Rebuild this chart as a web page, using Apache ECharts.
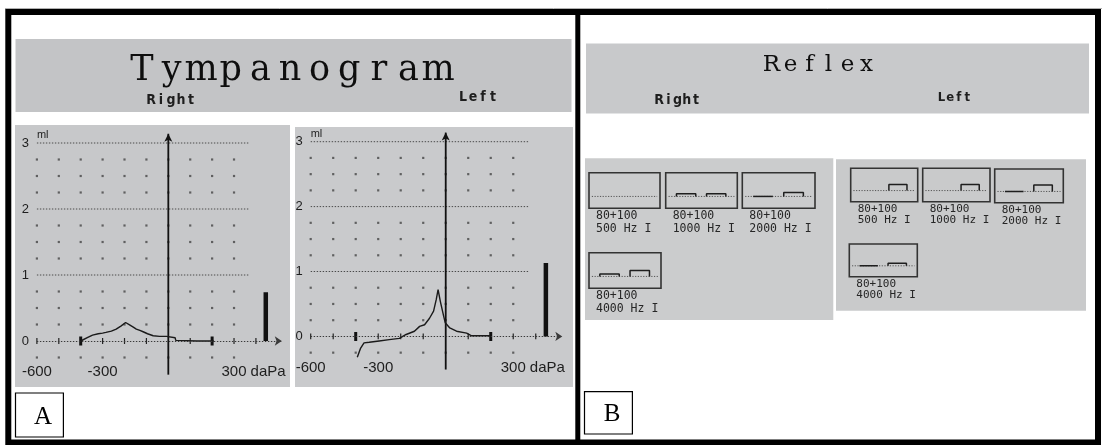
<!DOCTYPE html>
<html><head><meta charset="utf-8">
<script src="https://cdn.jsdelivr.net/npm/echarts@6/dist/echarts.min.js"></script>
<style>html,body{margin:0;padding:0;background:#fff}#c{width:1104px;height:445px}</style>
</head><body><div id="c"></div>
<script>
// ---------------- data ----------------
const tympTitle = 'Tympanogram';
const reflexTitle = 'Reflex';
const earLabels = ['Right', 'Left'];
const panelLetters = ['A', 'B'];
const yTickLabels = [0, 1, 2, 3];
const xTickLabels = [-600, -300, 300];
const pressureUnit = 'daPa';
const complianceUnit = 'ml';
const gridLineLevels = [1, 2, 3];
const dotColumns = [-600, -500, -400, -300, -200, -100, 0, 100, 200, 300];
const dotRows = [-0.25, 0.25, 0.5, 0.75, 1.25, 1.5, 1.75, 2.25, 2.5, 2.75];
const pressureLimits = [-400, 200];
const minorTicks = [-600, -500, -300, -200, -100, 100, 300, 400];
const axisExtent = [-0.51, 3.14];

// right ear tympanogram (pressure daPa, compliance ml)
const rightPressure = [-400, -392, -370, -346, -320, -300, -285, -260, -238, -215, -195, -175, -160, -146, -130, -115, -95, -69, -40, -8, 31, 34, 131, 208];
const rightCompliance = [0, 0.01, 0.05, 0.09, 0.11, 0.12, 0.13, 0.15, 0.18, 0.23, 0.28, 0.24, 0.21, 0.18, 0.16, 0.14, 0.11, 0.08, 0.07, 0.07, 0.05, 0.01, 0, 0];
// left ear tympanogram
const leftPressure = [-393, -378, -363, -340, -296, -251, -206, -176, -139, -116, -94, -72, -54, -42, -34, -24, -9, -2, 18, 48, 93, 115, 197];
const leftCompliance = [-0.32, -0.18, -0.10, -0.09, -0.07, -0.05, -0.03, 0.03, 0.08, 0.155, 0.18, 0.28, 0.39, 0.57, 0.72, 0.54, 0.31, 0.21, 0.13, 0.08, 0.05, 0.01, 0.01];
// ear canal volume bars
const ecvPressure = 445;
const rightECV = 0.74;
const leftECV = 1.13;

// acoustic reflex
const reflexFreqs = ['500', '1000', '2000', '4000'];
const reflexStim = '80+100';
const reflexMode = 'I';
const stimWindows = [[15, 42], [57, 84]];
const rightReflex = [[null, null], [0.23, 0.23], [0, 0.34], [0.2, 0.49]];
const leftReflex = [[null, 0.54], [null, 0.54], [0, 0.58], [0, 0.24]];

// ---------------- layout ----------------
const tympLayouts = [
  { left: 36.9, top: 136.4, width: 247.5, height: 224.4 },
  { left: 310.7, top: 135.2, width: 254.3, height: 220.7 }
];
const reflexLayouts = [
  [[589, 172.7, 71, 35.6], [665.7, 172.7, 71.6, 35.6], [742.3, 172.7, 72.7, 35.6], [589, 252.7, 72, 35.6]],
  [[850.7, 168.3, 67, 33.4], [922.7, 168.3, 67.3, 33.4], [994.7, 169, 68.6, 33.7], [849.3, 244, 68, 32.7]]
];

const INK = '#1e1e1e';
const grids = [], xAxes = [], yAxes = [], series = [], graphics = [];

function spaced(txt) {
  return txt.split('').map(ch => '{c|' + ch + '}').join('');
}
function headerText(txt, x, y, cell, size, family, weight, color) {
  const tok = { width: cell, align: 'center', fontSize: size, fontFamily: family, fontWeight: weight, fill: color || INK };
  return {
    type: 'text', z: 5, x: x, y: y,
    style: { text: spaced(txt), align: 'center', verticalAlign: 'middle', rich: { c: tok } }
  };
}

// background / frames
graphics.push({ type: 'line', z: -5, shape: { x1: 5, y1: 8.5, x2: 1102, y2: 8.5 }, style: { stroke: '#b0b0b0', lineWidth: 1 } });
graphics.push({ type: 'rect', z: -4, shape: { x: 15.5, y: 39, width: 556, height: 73 }, style: { fill: '#c3c4c6' } });
graphics.push({ type: 'rect', z: -4, shape: { x: 586, y: 43.5, width: 503, height: 70 }, style: { fill: '#c8c9cb' } });
graphics.push({ type: 'rect', z: -4, shape: { x: 15, y: 125, width: 275, height: 262 }, style: { fill: '#c7c8ca' } });
graphics.push({ type: 'rect', z: -4, shape: { x: 295, y: 127, width: 278, height: 260 }, style: { fill: '#c9cacc' } });
graphics.push({ type: 'rect', z: -4, shape: { x: 585, y: 158.3, width: 248.3, height: 161.7 }, style: { fill: '#cbcccd' } });
graphics.push({ type: 'rect', z: -4, shape: { x: 836, y: 159.3, width: 250, height: 151.4 }, style: { fill: '#c9cacb' } });
graphics.push({ type: 'rect', z: 10, shape: { x: 8.3, y: 12, width: 1089.7, height: 430.5 }, style: { fill: 'none', stroke: '#000', lineWidth: 6 } });
graphics.push({ type: 'line', z: 10, shape: { x1: 577.8, y1: 12, x2: 577.8, y2: 442 }, style: { stroke: '#000', lineWidth: 5 } });
// panel letters
graphics.push({ type: 'rect', z: 6, shape: { x: 15.5, y: 393, width: 47.9, height: 44 }, style: { fill: '#fff', stroke: '#000', lineWidth: 1.2 } });
graphics.push({ type: 'rect', z: 6, shape: { x: 584.5, y: 391.7, width: 47.9, height: 42.3 }, style: { fill: '#fff', stroke: '#000', lineWidth: 1.2 } });
graphics.push({ type: 'text', z: 7, x: 43, y: 417.5, style: { text: panelLetters[0], align: 'center', verticalAlign: 'middle', fontSize: 25, fontFamily: 'Liberation Serif', fill: '#000' } });
graphics.push({ type: 'text', z: 7, x: 612, y: 414, style: { text: panelLetters[1], align: 'center', verticalAlign: 'middle', fontSize: 25, fontFamily: 'Liberation Serif', fill: '#000' } });
// headers
graphics.push(headerText(tympTitle, 290, 71, 29.6, 35, 'DejaVu Serif', 'normal', '#0e0e0e'));
graphics.push(headerText(reflexTitle, 819, 65, 19, 23, 'DejaVu Serif', 'normal', '#0e0e0e'));
graphics.push(headerText(earLabels[0], 171, 100, 10, 14, 'DejaVu Sans Condensed', 'bold'));
graphics.push(headerText(earLabels[1], 478, 97, 10, 14, 'DejaVu Sans Condensed', 'bold'));
graphics.push(headerText(earLabels[0], 677.5, 100, 9.2, 14, 'DejaVu Sans Condensed', 'bold'));
graphics.push(headerText(earLabels[1], 954.5, 98, 8.6, 13, 'DejaVu Sans Condensed', 'bold'));

// ---------------- tympanograms ----------------
const tymp = [
  { p: rightPressure, c: rightCompliance, ecv: rightECV },
  { p: leftPressure, c: leftCompliance, ecv: leftECV }
];
const padW = 39;
tymp.forEach((t, i) => {
  const L = tympLayouts[i];
  grids.push({ left: L.left, top: L.top, width: L.width, height: L.height, show: false, containLabel: false });
  xAxes.push({
    gridIndex: i, type: 'value', min: -600, max: 530,
    axisLine: { show: false, onZero: false }, axisTick: { show: false }, splitLine: { show: false },
    axisLabel: {
      customValues: xTickLabels, margin: 4, showMinLabel: true,
      fontFamily: 'Liberation Sans', fontSize: 15, color: INK,
      formatter: v => v === 300 ? '{p|}{n|300}{u| ' + pressureUnit + '}' : String(v),
      rich: {
        p: { width: padW },
        n: { fontFamily: 'Liberation Sans', fontSize: 15, color: INK },
        u: { fontFamily: 'Liberation Sans', fontSize: 15, color: INK, width: padW, align: 'left' }
      }
    }
  });
  yAxes.push({
    gridIndex: i, type: 'value', min: -0.3, max: 3.1,
    name: complianceUnit, nameLocation: 'end', nameGap: 1,
    nameTextStyle: { fontFamily: 'Liberation Sans', fontSize: 11, color: INK, align: 'left', verticalAlign: 'middle' },
    axisLine: { show: false, onZero: false }, axisTick: { show: false }, splitLine: { show: false },
    axisLabel: { customValues: yTickLabels, margin: 8, fontFamily: 'Liberation Sans', fontSize: 13, color: INK, padding: [7, 0, 0, 0] }
  });
  const base = { xAxisIndex: i, yAxisIndex: i, silent: true, animation: false };
  // horizontal dotted lines
  gridLineLevels.forEach(v => {
    series.push(Object.assign({ type: 'line', symbol: 'none', data: [[-600, v], [370, v]], lineStyle: { color: '#4a4a4a', width: 1, type: [1.4, 1.6] }, z: 2 }, base));
  });
  // dot grid
  const dots = [];
  dotColumns.forEach(x => dotRows.forEach(y => dots.push([x, y])));
  series.push(Object.assign({ type: 'scatter', symbol: 'rect', symbolSize: 2.2, data: dots, itemStyle: { color: '#454545' }, z: 2 }, base));
  // x axis (dotted, arrow)
  series.push(Object.assign({
    type: 'line', data: [], z: 3,
    markLine: {
      silent: true, animation: false, symbol: ['none', 'arrow'], symbolSize: 7,
      label: { show: false }, emphasis: { disabled: true },
      lineStyle: { color: '#3a3a3a', width: 1, type: [1.4, 1.6] },
      data: [[{ coord: [-600, 0] }, { coord: [518, 0] }]]
    }
  }, base));
  // y axis (solid, arrow)
  series.push(Object.assign({
    type: 'line', clip: false, z: 3, showSymbol: true,
    data: [{ value: [0, axisExtent[0]], symbol: 'none' }, { value: [0, axisExtent[1]], symbol: 'arrow', symbolSize: [6, 8] }],
    itemStyle: { color: '#111' },
    lineStyle: { color: '#111', width: 1.8 }
  }, base));
  // ticks
  minorTicks.forEach(p => {
    series.push(Object.assign({ type: 'line', symbol: 'none', data: [[p, -0.045], [p, 0.045]], lineStyle: { color: '#222', width: 1.2 }, z: 3 }, base));
  });
  pressureLimits.forEach(p => {
    series.push(Object.assign({ type: 'line', symbol: 'none', data: [[p, -0.07], [p, 0.07]], lineStyle: { color: '#111', width: 3 }, z: 3 }, base));
  });
  // curve
  series.push(Object.assign({ type: 'line', symbol: 'none', clip: false, data: t.p.map((p, k) => [p, t.c[k]]), lineStyle: { color: '#1a1a1a', width: 1.4 }, z: 4 }, base));
  // ear canal volume bar
  series.push(Object.assign({ type: 'line', symbol: 'none', data: [[ecvPressure, 0], [ecvPressure, t.ecv]], lineStyle: { color: '#111', width: 4.5, cap: 'butt' }, z: 4 }, base));
});

// ---------------- reflex boxes ----------------
[rightReflex, leftReflex].forEach((ear, e) => {
  ear.forEach((resp, f) => {
    const gi = grids.length;
    const B = reflexLayouts[e][f];
    grids.push({ left: B[0], top: B[1], width: B[2], height: B[3], show: true, borderColor: '#333', borderWidth: 1.6, backgroundColor: 'transparent' });
    xAxes.push({ gridIndex: gi, type: 'value', min: 0, max: 100, show: false });
    yAxes.push({ gridIndex: gi, type: 'value', min: -1, max: 2, show: false });
    const base = { xAxisIndex: gi, yAxisIndex: gi, silent: true, animation: false, symbol: 'none', type: 'line' };
    series.push(Object.assign({ data: [[4, 0], [96, 0]], lineStyle: { color: '#555', width: 1, type: [1.2, 1.5] }, z: 2 }, base));
    resp.forEach((h, w) => {
      if (h === null) return;
      const s = stimWindows[w][0], en = stimWindows[w][1];
      series.push(Object.assign({ data: [[s, 0], [s, h], [en, h], [en, 0]], lineStyle: { color: '#1e1e1e', width: 1.5 }, z: 3 }, base));
    });
    graphics.push({
      type: 'text', z: 5, x: B[0] + 7, y: B[1] + B[3] + 1.5,
      style: {
        text: reflexStim + '\n' + reflexFreqs[f] + ' Hz ' + reflexMode,
        fontFamily: 'DejaVu Sans Mono', fontSize: e === 0 ? 11.5 : 11, lineHeight: e === 0 ? 13 : 11.5,
        fill: '#262626', align: 'left', verticalAlign: 'top'
      }
    });
  });
});

const chart = echarts.init(document.getElementById('c'), null, { renderer: 'canvas' });
chart.setOption({
  animation: false,
  backgroundColor: '#ffffff',
  grid: grids, xAxis: xAxes, yAxis: yAxes, series: series,
  graphic: { elements: graphics }
});
</script></body></html>
